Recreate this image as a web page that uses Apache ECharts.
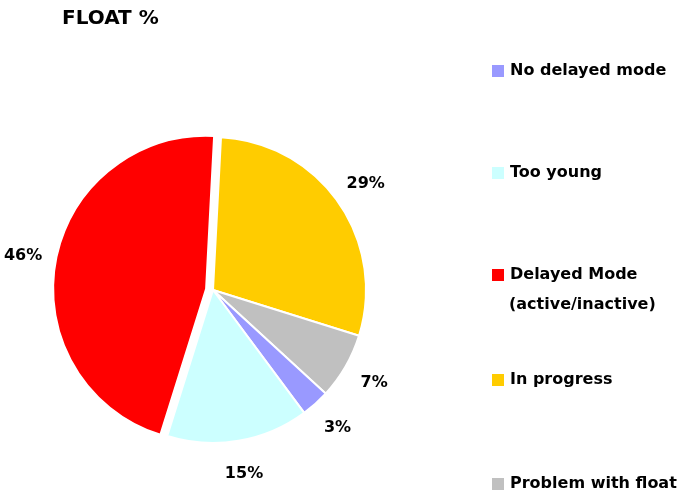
<!DOCTYPE html>
<html>
<head>
<meta charset="utf-8">
<script src="https://cdn.jsdelivr.net/npm/echarts@6/dist/echarts.min.js"></script>
<style>
  html, body { margin: 0; padding: 0; background: #fff; }
  #chart { width: 685px; height: 495px; }
</style>
</head>
<body>
<div id="chart"></div>
<script>
// legend order
const legendNames = ["No delayed mode", "Too young", "Delayed Mode", "In progress", "Problem with float"];
// slices in clockwise order from the top
const sliceNames = ["In progress", "Problem with float", "No delayed mode", "Too young", "Delayed Mode"];
const sliceValues = [29, 7, 3, 15, 46];

const colorMap = {
  "No delayed mode": "#9999FF",
  "Too young": "#CCFFFF",
  "Delayed Mode": "#FF0000",
  "In progress": "#FFCC00",
  "Problem with float": "#C0C0C0",
};

const font = "DejaVu Sans";
const legendTops = [62, 164, 266, 371, 475];

const chart = echarts.init(document.getElementById("chart"));

const legends = legendNames.map((name, i) => ({
  left: 490,
  top: legendTops[i],
  padding: 0,
  icon: "rect",
  itemWidth: 14,
  itemHeight: 14,
  selectedMode: false,
  data: [name],
  textStyle: {
    fontFamily: font,
    fontWeight: "bold",
    fontSize: 16,
    lineHeight: 18,
    color: "#000",
  },
}));

const pieCommon = {
  type: "pie",
  center: [213, 290],
  startAngle: 87,
  clockwise: true,
  selectedMode: "single",
  selectedOffset: 7,
  emphasis: { disabled: true },
};

const option = {
  animation: false,
  title: [
    {
      text: "FLOAT %",
      left: 62,
      top: 9,
      padding: 0,
      textStyle: { fontFamily: font, fontWeight: "bold", fontSize: 20, color: "#000" },
    },
    {
      text: "(active/inactive)",
      left: 509,
      top: 296,
      padding: 0,
      textStyle: { fontFamily: font, fontWeight: "bold", fontSize: 16, lineHeight: 18, color: "#000" },
    },
  ],
  legend: legends,
  series: [
    Object.assign({}, pieCommon, {
      radius: 153,
      itemStyle: { borderColor: "#fff", borderWidth: 2 },
      label: { show: false },
      labelLine: { show: false },
      data: sliceNames.map((name, i) => ({
        name: name,
        value: sliceValues[i],
        selected: name === "Delayed Mode",
        itemStyle: { color: colorMap[name] },
      })),
    }),
    // invisible ring that carries the percentage labels, centred at r≈183
    Object.assign({}, pieCommon, {
      radius: [155, 211],
      silent: true,
      itemStyle: { color: "rgba(0,0,0,0)", borderWidth: 0 },
      label: {
        show: true,
        position: "inside",
        formatter: "{d}%",
        fontFamily: font,
        fontWeight: "bold",
        fontSize: 16,
        color: "#000",
      },
      labelLine: { show: false },
      data: sliceNames.map((name, i) => ({
        name: name,
        value: sliceValues[i],
        selected: name === "Delayed Mode",
      })),
    }),
  ],
};

chart.setOption(option);
</script>
</body>
</html>
